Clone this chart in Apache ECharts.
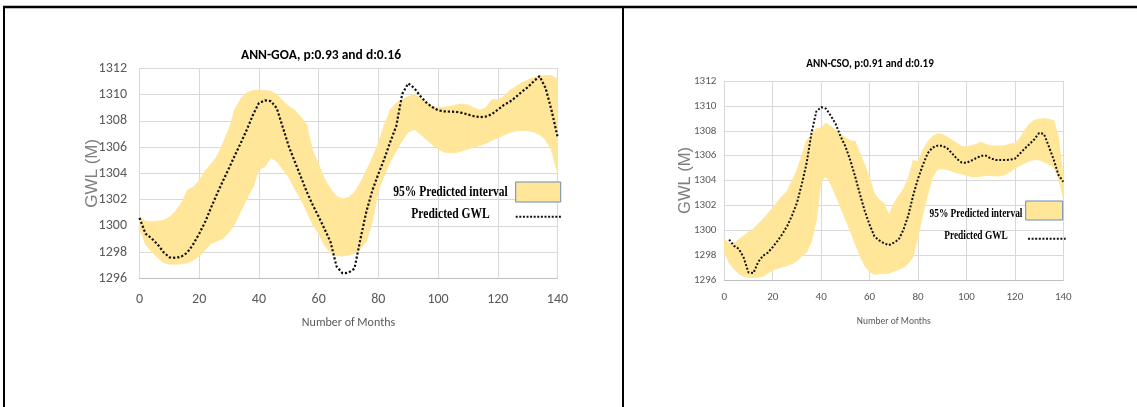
<!DOCTYPE html>
<html><head><meta charset="utf-8">
<script src="https://cdn.jsdelivr.net/npm/echarts@6/dist/echarts.min.js"></script>
<style>html,body{margin:0;padding:0;background:#fff}#c{width:1137px;height:407px}</style>
</head><body><div id="c"></div>
<script>
// ---------- data ----------
const months = [0,2,4,6,8,10,12,14,16,18,20,22,24,26,28,30,32,34,36,38,40,42,44,46,48,50,52,54,56,58,60,62,64,66,68,70,72,74,76,78,80,82,84,86,88,90,92,94,96,98,100,102,104,106,108,110,112,114,116,118,120,122,124,126,128,130,132,134,136,138,140];

const goaPred = [1300.6,1299.4,1299.05,1298.6,1298.0,1297.6,1297.55,1297.65,1297.95,1298.6,
1299.4,1300.3,1301.4,1302.45,1303.45,1304.4,1305.4,1306.35,1307.35,1308.45,
1309.35,1309.55,1309.5,1308.95,1307.5,1306.05,1304.9,1303.75,1302.6,1301.6,
1300.7,1299.75,1298.75,1296.9,1296.38,1296.43,1296.74,1299.0,1301.1,1302.7,
1303.95,1305.1,1306.4,1307.6,1310.05,1310.85,1310.5,1309.9,1309.4,1309.05,
1308.8,1308.72,1308.7,1308.68,1308.6,1308.48,1308.35,1308.28,1308.32,1308.5,
1308.85,1309.2,1309.45,1309.8,1310.2,1310.55,1311.0,1311.4,1310.5,1308.8,
1306.8];
const goaUpper = [1300.7,1300.35,1300.3,1300.35,1300.4,1300.65,1301.1,1301.7,1302.7,1302.95,
1303.45,1304.2,1304.7,1305.3,1306.3,1307.4,1308.9,1309.7,1310.15,1310.3,
1310.35,1310.3,1310.25,1310.0,1309.5,1309.1,1308.8,1308.3,1307.7,1305.7,
1304.7,1303.55,1302.8,1302.25,1302.05,1302.15,1302.55,1303.3,1304.2,1305.2,
1306.3,1307.7,1308.85,1309.35,1309.6,1309.85,1310.0,1309.75,1309.45,1309.1,
1309.0,1309.05,1309.1,1309.2,1309.28,1309.2,1309.0,1308.8,1309.0,1309.6,
1309.6,1309.85,1310.3,1310.6,1310.9,1311.1,1311.3,1311.4,1311.45,1311.45,
1311.2];
const goaLower = [1299.8,1298.6,1298.05,1297.6,1297.2,1297.08,1297.08,1297.1,1297.18,1297.38,
1297.7,1298.2,1298.65,1298.85,1299.05,1299.5,1300.2,1301.15,1302.1,1302.95,
1304.3,1304.5,1305.2,1304.9,1304.3,1303.7,1302.8,1302.05,1301.1,1300.1,
1299.4,1298.5,1297.95,1297.72,1297.7,1297.77,1297.9,1298.25,1298.8,1300.35,
1302.7,1303.85,1304.9,1305.7,1306.5,1307.15,1307.35,1307.0,1306.6,1306.2,
1305.85,1305.62,1305.56,1305.58,1305.7,1305.85,1306.0,1306.12,1306.28,1306.52,
1306.7,1306.92,1307.1,1307.22,1307.27,1307.24,1307.15,1306.95,1306.55,1305.75,
1304.0];

const csoPred = [null,1299.25,1298.75,1298.5,1297.8,1296.6,1296.55,1297.45,1297.95,1298.2,
1298.65,1299.15,1299.7,1300.35,1301.2,1302.2,1303.7,1305.4,1307.8,1309.55,
1309.9,1309.78,1309.2,1308.55,1307.55,1306.75,1305.65,1304.35,1302.9,1301.55,
1300.45,1299.5,1299.18,1298.95,1298.8,1299.0,1299.25,1300.05,1301.2,1302.8,
1304.15,1305.25,1306.2,1306.65,1306.8,1306.8,1306.6,1306.2,1305.75,1305.45,
1305.42,1305.6,1305.8,1305.98,1306.0,1305.78,1305.65,1305.65,1305.65,1305.67,
1305.75,1306.15,1306.55,1306.92,1307.3,1307.82,1307.75,1306.75,1305.7,1304.45,
1303.9];
const csoUpper = [1299.35,1298.9,1298.95,1299.25,1299.55,1299.85,1300.1,1300.5,1300.9,1301.35,
1301.8,1302.3,1302.75,1303.15,1304.0,1304.8,1306.05,1307.2,1307.7,1308.15,
1308.25,1308.6,1308.35,1308.05,1307.7,1307.45,1307.2,1307.15,1306.2,1305.25,
1304.2,1302.95,1302.45,1302.15,1301.2,1302.15,1302.75,1303.3,1304.2,1305.6,
1305.5,1306.45,1307.1,1307.55,1307.75,1307.72,1307.5,1307.25,1307.0,1306.75,
1306.72,1306.8,1306.92,1307.1,1306.9,1306.78,1306.78,1306.78,1306.82,1306.93,
1307.0,1307.35,1308.05,1308.55,1308.85,1308.95,1308.97,1308.93,1308.82,1307.5,
1304.3];
const csoLower = [1298.2,1297.4,1296.9,1296.5,1296.3,1296.22,1296.2,1296.22,1296.3,1296.55,
1296.8,1296.92,1297.05,1297.17,1297.3,1297.55,1297.9,1298.25,1299.1,1300.8,
1304.0,1304.3,1303.7,1302.8,1301.85,1300.9,1299.95,1298.95,1297.95,1297.15,
1296.65,1296.47,1296.5,1296.52,1296.55,1296.7,1296.85,1297.0,1297.35,1297.85,
1299.5,1301.3,1302.9,1304.25,1304.9,1304.95,1304.88,1304.75,1304.6,1304.52,
1304.42,1304.33,1304.31,1304.35,1304.4,1304.4,1304.36,1304.36,1304.47,1304.7,
1304.98,1305.2,1305.38,1305.57,1305.68,1305.65,1305.5,1305.3,1305.08,1304.2,
1302.6];

const titles = ['ANN-GOA, p:0.93 and d:0.16', 'ANN-CSO, p:0.91 and d:0.19'];
const legendNames = ['95% Predicted interval', 'Predicted GWL'];
const xName = 'Number of Months';
const yName = 'GWL (M)';

// ---------- styling ----------
const SANS = "Carlito,'Liberation Sans',Arial,sans-serif";
const ARIAL = "'Liberation Sans',Arial,sans-serif";
const SERIF = "'Liberation Serif','Times New Roman',serif";
const BAND = '#FFE699';
const GRIDC = '#D9D9D9';
const TICKC = '#595959';

const pairs = (arr) => months.map((m, i) => [m, arr[i]]);
// one quad per interval between two consecutive months: [x0, lo0, up0, x1, lo1, up1]
const segs = (lo, up) => months.slice(0, -1).map((m, i) => [m, lo[i], up[i], months[i + 1], lo[i + 1], up[i + 1]]);

function xAxis(gi, fs, margin, nameFs, nameGap) {
  return {
    type: 'value', gridIndex: gi, min: 0, max: 140, interval: 20,
    axisLine: { show: true, lineStyle: { color: '#BFBFBF', width: 1 } },
    axisTick: { show: false },
    splitLine: { show: true, lineStyle: { color: GRIDC, width: 1 } },
    axisLabel: { color: TICKC, fontSize: fs, fontFamily: SANS, margin: margin, formatter: (v) => String(v) },
    name: xName, nameLocation: 'middle', nameGap: nameGap, nameMoveOverlap: false,
    nameTextStyle: { color: TICKC, fontSize: nameFs, fontFamily: SANS }
  };
}
function yAxis(gi, fs, margin, nameFs, nameGap) {
  return {
    type: 'value', gridIndex: gi, min: 1296, max: 1312, interval: 2,
    axisLine: { show: true, lineStyle: { color: GRIDC, width: 1 } },
    axisTick: { show: false },
    splitLine: { show: true, lineStyle: { color: GRIDC, width: 1 } },
    axisLabel: { color: TICKC, fontSize: fs, fontFamily: SANS, margin: margin, formatter: (v) => String(v) },
    name: yName, nameLocation: 'middle', nameGap: nameGap, nameMoveOverlap: false,
    nameTextStyle: { color: '#808080', fontSize: nameFs, fontFamily: ARIAL }
  };
}
function bandRender(params, api) {
  const a = api.coord([api.value(0), api.value(1)]);
  const b = api.coord([api.value(3), api.value(4)]);
  const c = api.coord([api.value(3), api.value(5)]);
  const d = api.coord([api.value(0), api.value(2)]);
  return { type: 'polygon', shape: { points: [a, b, c, d] },
           style: { fill: BAND, stroke: BAND, lineWidth: 0.8 } };
}
function series(gi, lower, upper, pred, lw) {
  return [
    { type: 'custom', name: legendNames[0], xAxisIndex: gi, yAxisIndex: gi, data: segs(lower, upper),
      renderItem: bandRender, encode: { x: [0, 3], y: [1, 2, 4, 5] }, silent: true, z: 1 },
    { type: 'line', name: legendNames[1], xAxisIndex: gi, yAxisIndex: gi, data: pairs(pred),
      symbol: 'none', connectNulls: false,
      lineStyle: { color: '#111', width: lw, type: [lw, lw * 0.9], cap: 'butt' }, z: 3 }
  ];
}

function legendGraphics(cx, y1, y2, fs, sx, rect, line) {
  return [
    { type: 'text', x: cx, y: y1, scaleX: sx, z: 100,
      style: { text: legendNames[0], font: 'bold ' + fs + 'px ' + SERIF, fill: '#000',
               align: 'center', verticalAlign: 'middle', textAlign: 'center', textVerticalAlign: 'middle' } },
    { type: 'text', x: cx, y: y2, scaleX: sx, z: 100,
      style: { text: legendNames[1], font: 'bold ' + fs + 'px ' + SERIF, fill: '#000',
               align: 'center', verticalAlign: 'middle', textAlign: 'center', textVerticalAlign: 'middle' } },
    { type: 'rect', z: 100, shape: { x: rect[0], y: rect[1], width: rect[2], height: rect[3] },
      style: { fill: BAND, stroke: '#6A8CB8', lineWidth: 1 } },
    { type: 'line', z: 100, shape: { x1: line[0], y1: line[2], x2: line[1], y2: line[2] },
      style: { stroke: '#111', lineWidth: 2, lineDash: [2, 1.6] } }
  ];
}

const chart = echarts.init(document.getElementById('c'), null, { renderer: 'canvas' });
chart.setOption({
  animation: false,
  backgroundColor: '#fff',
  title: [
    { text: titles[0], left: 321, top: 49, padding: 0, textAlign: 'center', textVerticalAlign: 'top',
      textStyle: { fontSize: 13.5, fontWeight: 'bold', color: '#000', fontFamily: SANS } },
    { text: titles[1], left: 870, top: 59, padding: 0, textAlign: 'center', textVerticalAlign: 'top',
      textStyle: { fontSize: 11, fontWeight: 'bold', color: '#000', fontFamily: SANS } }
  ],
  grid: [
    { left: 139.5, top: 68.3, width: 418, height: 210, containLabel: false },
    { left: 724.3, top: 81, width: 339, height: 199, containLabel: false }
  ],
  xAxis: [ xAxis(0, 14, 14, 12, 39), xAxis(1, 11, 12, 9.5, 37) ],
  yAxis: [ yAxis(0, 14, 12.5, 17, 39), yAxis(1, 11, 8, 16.5, 30) ],
  series: [].concat(
    series(0, goaLower, goaUpper, goaPred, 2.2),
    series(1, csoLower, csoUpper, csoPred, 2)
  ),
  graphic: [
    { type: 'line', z: 200, shape: { x1: 3, y1: 7, x2: 1137, y2: 7 }, style: { stroke: '#000', lineWidth: 2.5 } },
    { type: 'line', z: 200, shape: { x1: 4, y1: 6, x2: 4, y2: 407 }, style: { stroke: '#000', lineWidth: 2 } },
    { type: 'line', z: 200, shape: { x1: 623, y1: 6, x2: 623, y2: 407 }, style: { stroke: '#000', lineWidth: 2 } }
  ].concat(
    legendGraphics(450.5, 191.7, 214, 15, 0.77, [515.7, 182, 45, 20], [515.7, 561.7, 216.7]),
    legendGraphics(976, 214, 236, 12, 0.78, [1025.7, 201, 37, 19], [1028, 1065.7, 238.7])
  )
});
</script>
</body></html>
